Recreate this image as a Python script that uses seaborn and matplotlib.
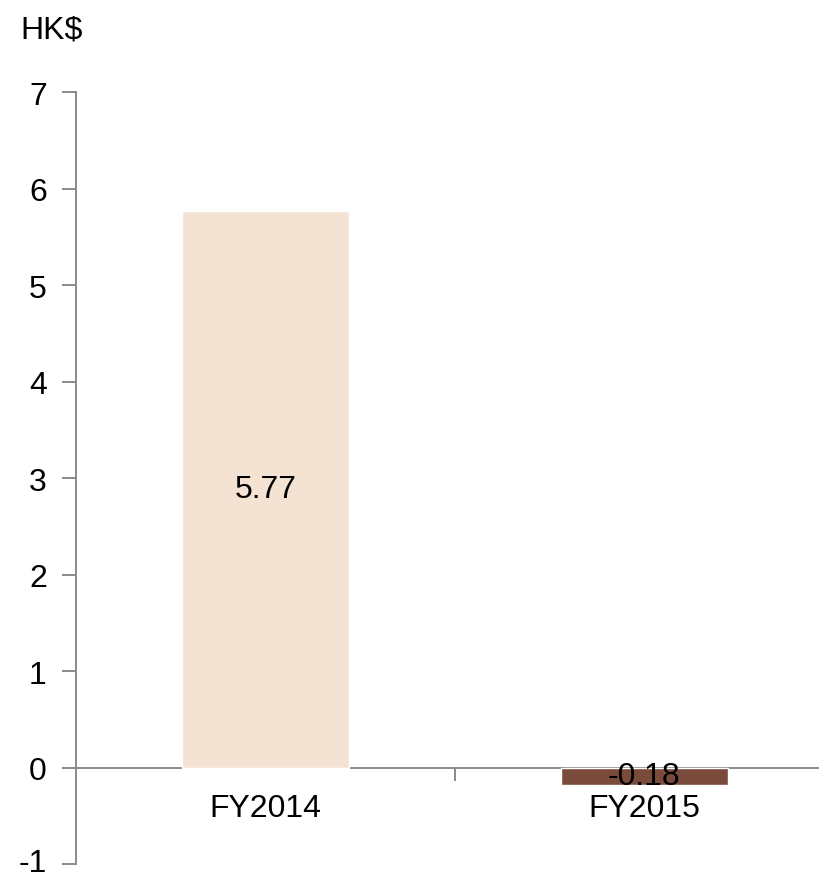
import matplotlib
matplotlib.use("Agg")
import matplotlib.pyplot as plt
import matplotlib.transforms as mtransforms
from matplotlib import font_manager
import seaborn as sns
import pandas as pd

categories = ["FY2014", "FY2015"]
values = [5.77, -0.18]
value_labels = ["5.77", "-0.18"]
bar_colors = ["#F4E3D2", "#7A4B3A"]
y_ticks = [-1, 0, 1, 2, 3, 4, 5, 6, 7]
unit_label = "HK$"

sns.set_theme(style="white")
names = {f.name for f in font_manager.fontManager.ttflist}
family = "Liberation Sans Narrow" if "Liberation Sans Narrow" in names else "Liberation Sans"
plt.rcParams["font.family"] = [family, "DejaVu Sans"]
plt.rcParams["text.color"] = "black"
plt.rcParams["xtick.labelcolor"] = "black"
plt.rcParams["ytick.labelcolor"] = "black"

df = pd.DataFrame({"year": categories, "eps": values})

fig = plt.figure(figsize=(8.19, 8.79), dpi=100)
ax = fig.add_axes([0.0928, 0.0159, 0.925, 0.878])

sns.barplot(data=df, x="year", y="eps", hue="year", palette=bar_colors,
            width=0.44, legend=False, saturation=1, ax=ax)

ax.set_ylim(-1, 7)
ax.set_xlim(-0.5, 1.5)
ax.set_yticks(y_ticks)
ax.set_yticklabels([str(t) for t in y_ticks], fontsize=23)

grey = "#8a8a8a"
for s in ["top", "right"]:
    ax.spines[s].set_visible(False)
ax.spines["left"].set_color(grey)
ax.spines["left"].set_linewidth(1.4)
ax.spines["bottom"].set_position(("data", 0))
ax.spines["bottom"].set_color(grey)
ax.spines["bottom"].set_linewidth(1.4)
ax.spines["bottom"].set_zorder(0.5)

ax.tick_params(axis="y", direction="out", length=10, width=1.4, color=grey,
               pad=11, left=True)
ax.set_xticks([0, 1])
ax.set_xticklabels(categories, fontsize=23)
ax.tick_params(axis="x", which="major", length=0, pad=18)
ax.set_xticks([0.5], minor=True)
ax.tick_params(axis="x", which="minor", direction="out", length=9, width=1.4,
               color=grey, bottom=True)
ax.set_xlabel("")
ax.set_ylabel("")

# lift the lowest tick label slightly so it stays inside the canvas
lowest = ax.get_yticklabels()[0]
lowest.set_transform(lowest.get_transform() +
                     mtransforms.ScaledTranslation(0, 5 / 100, fig.dpi_scale_trans))

for i, (v, lab) in enumerate(zip(values, value_labels)):
    ax.text(i, v / 2, lab, ha="center", va="center", fontsize=23, color="black")

fig.text(0.025, 0.965, unit_label, fontsize=23, ha="left", va="center")

fig.savefig("out.png", dpi=100)
